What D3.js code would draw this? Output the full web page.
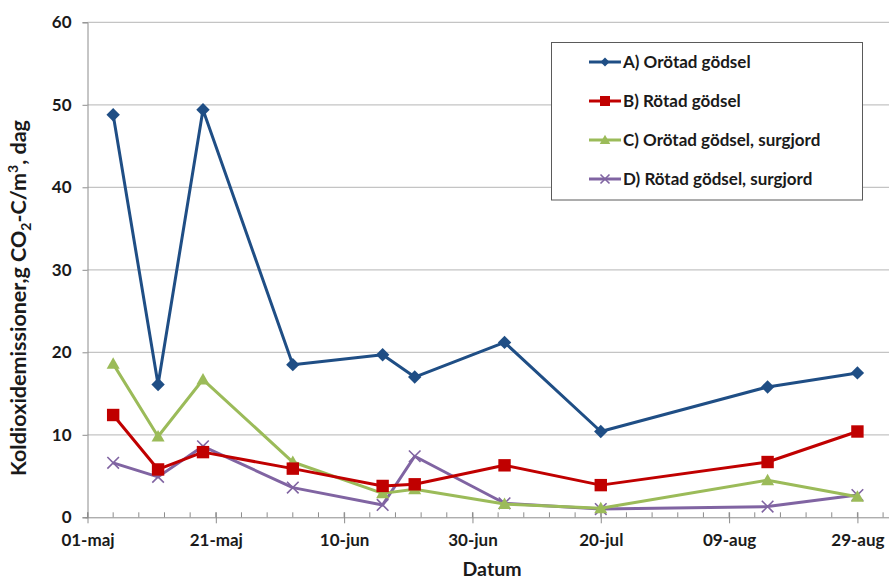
<!DOCTYPE html>
<html>
<head>
<meta charset="utf-8">
<script src="https://cdn.jsdelivr.net/npm/d3@7"></script>
<style>
  html, body { margin: 0; padding: 0; background: #ffffff; }
  svg { display: block; font-family: Lato, "Open Sans", sans-serif; }
</style>
</head>
<body>
<svg id="chart" width="889" height="579"></svg>
<script>
// Sampling dates and daily CO2-C emissions (g CO2-C per m3 and day)
const dates = ["2010-05-05", "2010-05-12", "2010-05-19", "2010-06-02", "2010-06-16",
               "2010-06-21", "2010-07-05", "2010-07-20", "2010-08-15", "2010-08-29"];
const seriesA = [48.8, 16.1, 49.4, 18.5, 19.7, 17.0, 21.2, 10.4, 15.8, 17.5];
const seriesB = [12.4, 5.8, 7.9, 5.9, 3.8, 4.0, 6.3, 3.9, 6.7, 10.4];
const seriesC = [18.6, 9.8, 16.7, 6.7, 2.9, 3.4, 1.6, 1.1, 4.5, 2.5];
const seriesD = [6.6, 4.9, 8.6, 3.6, 1.5, 7.4, 1.7, 1.0, 1.3, 2.7];
const seriesNames = ["A) Orötad gödsel", "B) Rötad gödsel",
                     "C) Orötad gödsel, surgjord", "D) Rötad gödsel, surgjord"];
const seriesColors = ["#1F4E85", "#C00000", "#9BBB59", "#8064A2"];
const seriesMarkers = ["diamond", "square", "triangle", "cross"];
const yTicks = [0, 10, 20, 30, 40, 50, 60];
const xTickLabels = ["01-maj", "21-maj", "10-jun", "30-jun", "20-jul", "09-aug", "29-aug"];

const parse = d3.utcParse("%Y-%m-%d");
const startDate = parse("2010-05-01");
const endDate = parse("2010-09-03");

const svg = d3.select("#chart");
const plotLeft = 87.5, plotRight = 889.5, plotTop = 22.3, plotBottom = 517.3;

const x = d3.scaleUtc().domain([startDate, endDate]).range([plotLeft, plotRight]);
const y = d3.scaleLinear().domain([0, 60]).range([plotBottom, plotTop]);

// Horizontal gridlines
svg.append("g")
  .selectAll("line")
  .data(yTicks.filter(v => v > 0))
  .join("line")
  .attr("x1", plotLeft).attr("x2", plotRight)
  .attr("y1", d => y(d)).attr("y2", d => y(d))
  .attr("stroke", "#c4c4c4").attr("stroke-width", 1.2);

// Y axis
const yAxis = svg.append("g")
  .attr("transform", `translate(${plotLeft},0)`)
  .call(d3.axisLeft(y).tickValues(yTicks).tickSize(5).tickPadding(11).tickFormat(d3.format("d")));
yAxis.select(".domain").attr("stroke", "#8c8c8c");
yAxis.selectAll(".tick line").attr("stroke", "#8c8c8c");
yAxis.selectAll(".tick text")
  .attr("font-size", 17).attr("font-weight", "bold").attr("fill", "#1a1a1a")
  .attr("font-family", "Lato, sans-serif");

// X axis: major ticks every 20 days, minor ticks every 4 days
const majorTicks = d3.utcDay.range(startDate, d3.utcDay.offset(endDate, 1), 20);
const minorTicks = d3.utcDay.range(startDate, endDate, 4);

svg.append("g")
  .selectAll("line")
  .data(minorTicks)
  .join("line")
  .attr("x1", d => x(d)).attr("x2", d => x(d))
  .attr("y1", plotBottom - 5).attr("y2", plotBottom)
  .attr("stroke", "#8c8c8c");

const xAxis = svg.append("g")
  .attr("transform", `translate(0,${plotBottom})`)
  .call(d3.axisBottom(x).tickValues(majorTicks).tickSizeOuter(0).tickSizeInner(6).tickPadding(11)
    .tickFormat((d, i) => xTickLabels[i]));
xAxis.select(".domain").attr("stroke", "#8c8c8c").attr("d", `M${plotLeft - 2},0.5H${plotRight}`);
xAxis.selectAll(".tick line").attr("stroke", "#8c8c8c").attr("y1", -5);
xAxis.selectAll(".tick text")
  .attr("font-size", 17).attr("font-weight", "bold").attr("fill", "#1a1a1a")
  .attr("font-family", "Lato, sans-serif");

// Axis titles
svg.append("text")
  .attr("x", 492).attr("y", 576)
  .attr("text-anchor", "middle")
  .attr("font-size", 19.5).attr("font-weight", "bold").attr("fill", "#1a1a1a")
  .text("Datum");

const yTitle = svg.append("text")
  .attr("transform", "translate(26,298) rotate(-90)")
  .attr("text-anchor", "middle")
  .attr("font-size", 21.5).attr("font-weight", "bold").attr("fill", "#1a1a1a");
yTitle.append("tspan").text("Koldioxidemissioner,g CO");
yTitle.append("tspan").attr("font-size", 14).attr("dy", 5).text("2");
yTitle.append("tspan").attr("dy", -5).text("-C/m");
yTitle.append("tspan").attr("font-size", 14).attr("dy", -8).text("3");
yTitle.append("tspan").attr("dy", 8).text(", dag");

// Marker drawing
function drawMarker(g, type, color, s) {
  if (type === "diamond") {
    g.append("path").attr("d", `M0,${-s}L${s},0L0,${s}L${-s},0Z`).attr("fill", color);
  } else if (type === "square") {
    g.append("rect").attr("x", -s).attr("y", -s).attr("width", 2 * s).attr("height", 2 * s).attr("fill", color);
  } else if (type === "triangle") {
    g.append("path").attr("d", `M0,${-s * 1.05}L${s * 1.05},${s * 0.8}L${-s * 1.05},${s * 0.8}Z`).attr("fill", color);
  } else if (type === "cross") {
    g.append("path").attr("d", `M${-s},${-s}L${s},${s}M${-s},${s}L${s},${-s}`)
      .attr("stroke", color).attr("stroke-width", 1.6).attr("fill", "none");
  }
}

const allSeries = [seriesA, seriesB, seriesC, seriesD];
const markerSize = [6.7, 6.2, 6.2, 5.8];
const line = d3.line().x(d => x(d.date)).y(d => y(d.value));

// Draw back to front so series A sits on top
for (let k = allSeries.length - 1; k >= 0; k--) {
  const pts = dates.map((d, i) => ({ date: parse(d), value: allSeries[k][i] }));
  const g = svg.append("g");
  g.append("path")
    .datum(pts)
    .attr("d", line)
    .attr("fill", "none")
    .attr("stroke", seriesColors[k])
    .attr("stroke-width", 3)
    .attr("stroke-linejoin", "round");
  pts.forEach(p => {
    const mg = g.append("g").attr("transform", `translate(${x(p.date)},${y(p.value)})`);
    drawMarker(mg, seriesMarkers[k], seriesColors[k], markerSize[k]);
  });
}

// Legend
const legend = svg.append("g");
legend.append("rect")
  .attr("x", 551.5).attr("y", 42.5).attr("width", 311).attr("height", 157.5)
  .attr("fill", "#ffffff").attr("stroke", "#5a5a5a").attr("stroke-width", 1);
const legendRows = [62, 101, 140, 179];
seriesNames.forEach((name, k) => {
  const row = legend.append("g").attr("transform", `translate(0,${legendRows[k]})`);
  row.append("line").attr("x1", 589).attr("x2", 621).attr("y1", 0).attr("y2", 0)
    .attr("stroke", seriesColors[k]).attr("stroke-width", 3);
  const mg = row.append("g").attr("transform", "translate(605,0)");
  drawMarker(mg, seriesMarkers[k], seriesColors[k], [4.5, 5, 5, 4.5][k]);
  row.append("text").attr("x", 623).attr("y", 6)
    .attr("font-size", 17).attr("font-weight", "bold").attr("fill", "#1a1a1a")
    .text(name);
});
</script>
</body>
</html>
